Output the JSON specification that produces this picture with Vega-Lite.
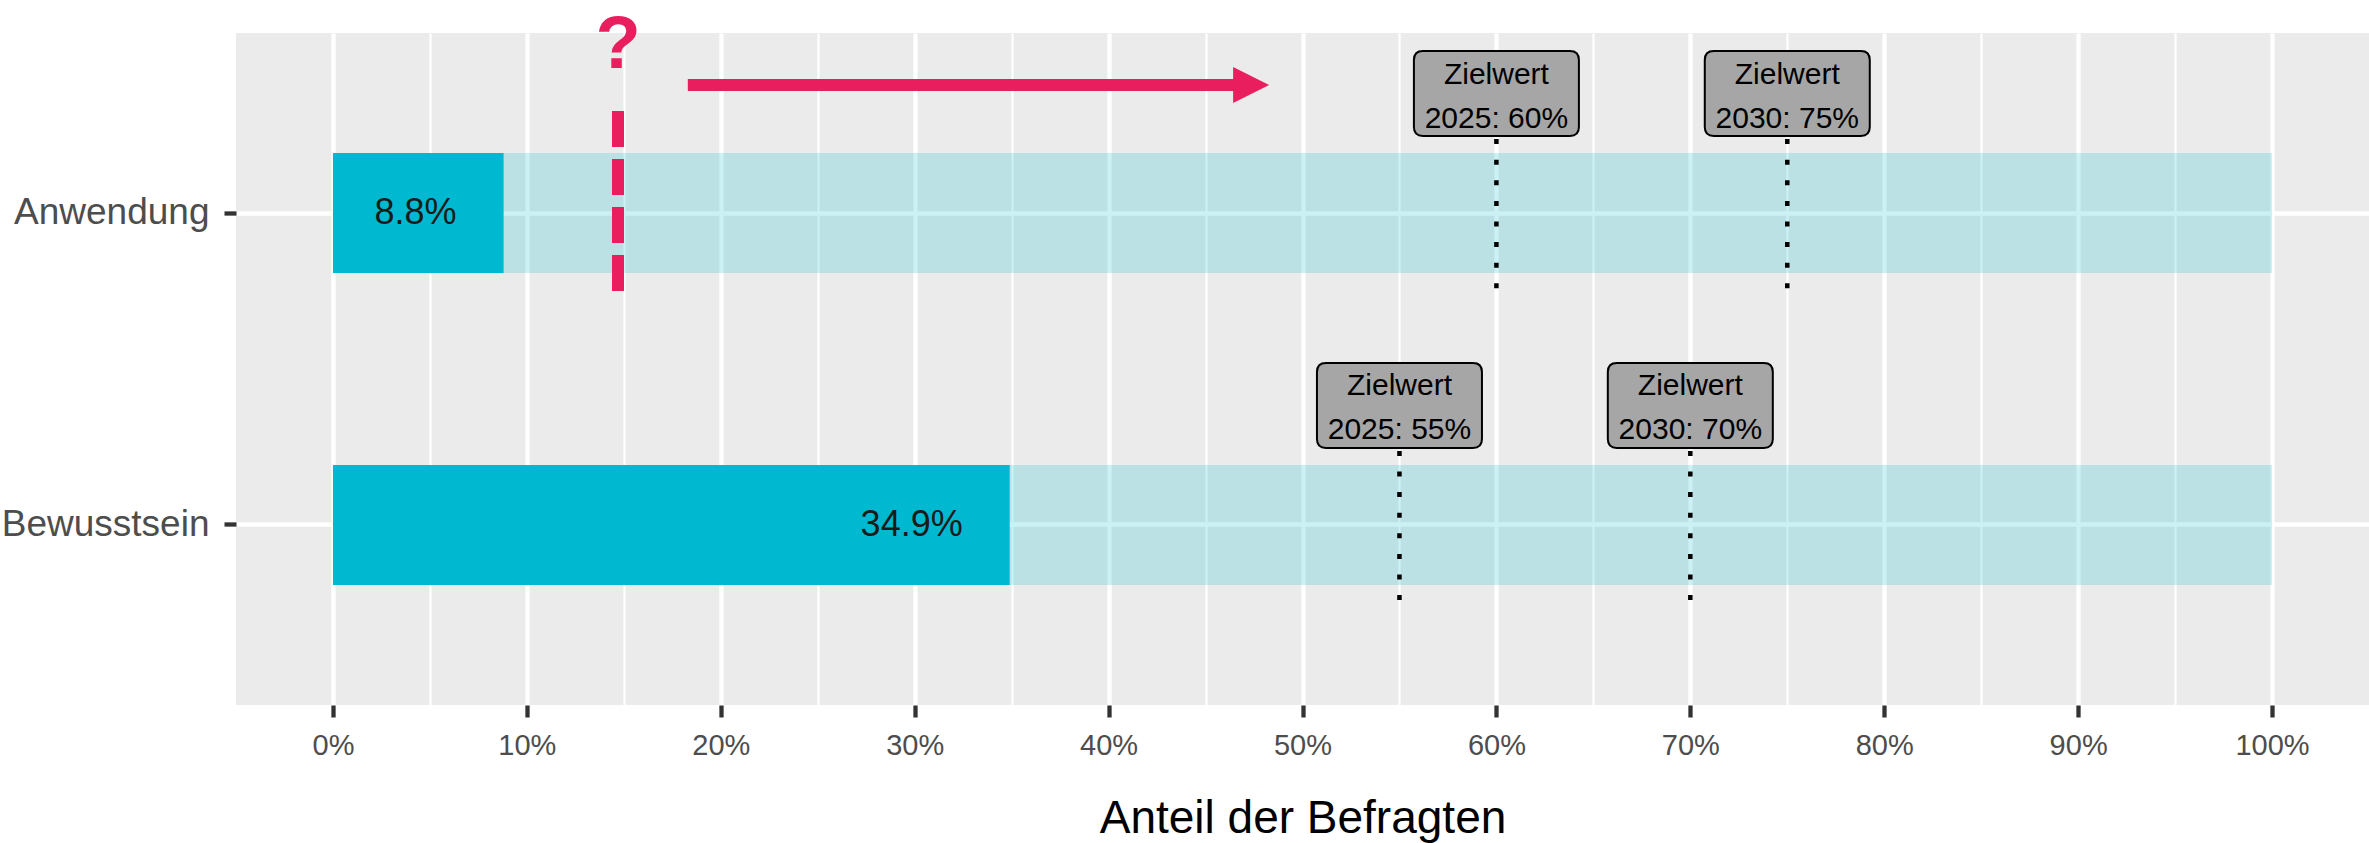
{
  "$schema": "https://vega.github.io/schema/vega-lite/v6.json",
  "width": 2133,
  "height": 672,
  "autosize": {"type": "none"},
  "padding": {"left": 236, "top": 33, "right": 0, "bottom": 138},
  "background": "white",
  "config": {"view": {"fill": "#EBEBEB", "stroke": null}, "font": "Liberation Sans"},
  "datasets": {
    "bars": [
      {"category": "Anwendung", "value": 8.8, "label": "8.8%"},
      {"category": "Bewusstsein", "value": 34.9, "label": "34.9%"}
    ],
    "targets": [
      {"category": "Anwendung", "target": 60, "label": "Zielwert\n2025: 60%"},
      {"category": "Anwendung", "target": 75, "label": "Zielwert\n2030: 75%"},
      {"category": "Bewusstsein", "target": 55, "label": "Zielwert\n2025: 55%"},
      {"category": "Bewusstsein", "target": 70, "label": "Zielwert\n2030: 70%"}
    ],
    "single": [{"note": "annotation"}]
  },
  "layer": [
    {
      "data": {"name": "bars"},
      "mark": {"type": "bar", "color": "#00B8CF", "opacity": 0.2},
      "encoding": {
        "y": {
          "field": "category", "type": "nominal",
          "scale": {"domain": ["Anwendung", "Bewusstsein"], "paddingInner": 0.615, "paddingOuter": 0.385},
          "axis": {
            "title": null, "labelFontSize": 37, "labelColor": "#4d4d4d", "labelFont": "Liberation Sans",
            "labelLimit": 0,
            "tickSize": 12, "tickWidth": 4.3, "tickColor": "#333333", "labelPadding": 15,
            "domain": false, "grid": true, "gridColor": "white", "gridWidth": 4.3, "bandPosition": 0.5
          }
        },
        "x": {
          "datum": 0, "type": "quantitative",
          "scale": {"domain": [-5, 105], "nice": false, "zero": false},
          "axis": {
            "values": [0, 5, 10, 15, 20, 25, 30, 35, 40, 45, 50, 55, 60, 65, 70, 75, 80, 85, 90, 95, 100],
            "labelExpr": "datum.value % 10 === 0 ? datum.value + '%' : ''",
            "labelOverlap": false, "labelFlush": false,
            "labelFontSize": 29, "labelColor": "#4d4d4d", "labelFont": "Liberation Sans", "labelPadding": 14,
            "tickSize": 12, "tickColor": "#333333",
            "tickWidth": 4.3,
            "tickOpacity": {"condition": {"test": "datum.value % 10 !== 0", "value": 0}, "value": 1},
            "domain": false, "grid": true, "gridColor": "white",
            "gridWidth": {"condition": {"test": "datum.value % 10 !== 0", "value": 2.2}, "value": 4.3},
            "title": "Anteil der Befragten", "titleFontSize": 46, "titleColor": "black",
            "titleFontWeight": "normal", "titleFont": "Liberation Sans",
            "titleY": 127, "titleBaseline": "alphabetic"
          }
        },
        "x2": {"datum": 100}
      }
    },
    {
      "data": {"name": "bars"},
      "mark": {"type": "bar", "color": "#00B8CF", "opacity": 1},
      "encoding": {
        "y": {"field": "category", "type": "nominal"},
        "x": {"field": "value", "type": "quantitative"},
        "x2": {"datum": 0}
      }
    },
    {
      "data": {"name": "bars"},
      "mark": {"type": "text", "align": "right", "baseline": "middle", "dx": -47, "fontSize": 36, "color": "#1a1a1a", "font": "Liberation Sans"},
      "encoding": {
        "y": {"field": "category", "type": "nominal"},
        "x": {"field": "value", "type": "quantitative"},
        "text": {"field": "label"}
      }
    },
    {
      "data": {"name": "targets"},
      "mark": {"type": "rule", "strokeDash": [5, 15.6], "strokeWidth": 4.5, "color": "black", "yOffset": -74, "y2Offset": 76, "strokeCap": "butt"},
      "encoding": {
        "x": {"field": "target", "type": "quantitative"},
        "y": {"field": "category", "type": "nominal", "bandPosition": 0.5},
        "y2": {"field": "category", "bandPosition": 0.5}
      }
    },
    {
      "data": {"name": "targets"},
      "mark": {
        "type": "point", "filled": true, "opacity": 1, "fill": "#A6A6A6", "stroke": "black", "strokeWidth": 2,
        "size": 27225, "yOffset": -119.5,
        "shape": "M-0.891,-0.515L0.891,-0.515Q1,-0.515 1,-0.406L1,0.406Q1,0.515 0.891,0.515L-0.891,0.515Q-1,0.515 -1,0.406L-1,-0.406Q-1,-0.515 -0.891,-0.515Z"
      },
      "encoding": {
        "x": {"field": "target", "type": "quantitative"},
        "y": {"field": "category", "type": "nominal"}
      }
    },
    {
      "data": {"name": "targets"},
      "mark": {"type": "text", "align": "center", "baseline": "middle", "lineBreak": "\n", "lineHeight": 44, "fontSize": 30, "color": "black", "font": "Liberation Sans", "yOffset": -138.5},
      "encoding": {
        "x": {"field": "target", "type": "quantitative"},
        "y": {"field": "category", "type": "nominal"},
        "text": {"field": "label"}
      }
    },
    {
      "data": {"name": "single"},
      "mark": {"type": "rule", "strokeDash": [36, 12], "strokeWidth": 12, "color": "#E91E5E", "yOffset": -102, "y2Offset": 78, "strokeCap": "butt"},
      "encoding": {
        "x": {"datum": 14.7, "type": "quantitative"},
        "y": {"datum": "Anwendung", "type": "nominal", "bandPosition": 0.5},
        "y2": {"datum": "Anwendung", "bandPosition": 0.5}
      }
    },
    {
      "data": {"name": "single"},
      "mark": {"type": "text", "text": "?", "fontSize": 74, "fontWeight": "bold", "color": "#E91E5E", "align": "center", "baseline": "alphabetic", "font": "Liberation Sans", "yOffset": -145},
      "encoding": {
        "x": {"datum": 14.7, "type": "quantitative"},
        "y": {"datum": "Anwendung", "type": "nominal"}
      }
    },
    {
      "data": {"name": "single"},
      "mark": {"type": "rule", "strokeWidth": 12, "color": "#E91E5E", "yOffset": -128, "strokeCap": "butt"},
      "encoding": {
        "x": {"datum": 18.3, "type": "quantitative"},
        "x2": {"datum": 47},
        "y": {"datum": "Anwendung", "type": "nominal"}
      }
    },
    {
      "data": {"name": "single"},
      "mark": {"type": "point", "filled": true, "opacity": 1, "color": "#E91E5E", "strokeWidth": 0, "size": 1296, "yOffset": -128, "shape": "M-1,-1L1,0L-1,1Z"},
      "encoding": {
        "x": {"datum": 47.35, "type": "quantitative"},
        "y": {"datum": "Anwendung", "type": "nominal"}
      }
    }
  ]
}
